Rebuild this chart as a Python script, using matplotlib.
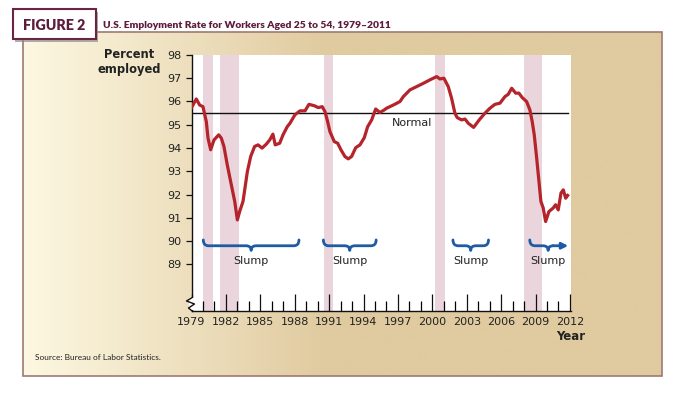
import numpy as np
import matplotlib
matplotlib.use("Agg")
import matplotlib.pyplot as plt
from matplotlib.path import Path
from matplotlib.patches import PathPatch, Rectangle
from matplotlib.lines import Line2D

# ---------------- data ----------------
years = [1979.0, 1979.42, 1979.71, 1980.0, 1980.29, 1980.44, 1980.67, 1980.96, 1981.37, 1981.6,
         1981.83, 1982.12, 1982.47, 1982.77, 1983.0, 1983.2, 1983.49, 1983.64, 1983.87, 1984.16,
         1984.5, 1984.8, 1985.15, 1985.52, 1985.82, 1986.1, 1986.3, 1986.69, 1986.98, 1987.35,
         1987.59, 1988.02, 1988.46, 1988.9, 1989.24, 1989.71, 1990.06, 1990.4, 1990.64, 1990.87,
         1991.07, 1991.45, 1991.75, 1992.03, 1992.38, 1992.67, 1992.96, 1993.32, 1993.69, 1994.07,
         1994.36, 1994.71, 1995.06, 1995.43, 1995.81, 1996.0, 1996.6, 1997.18, 1997.47, 1998.05,
         1998.63, 1999.21, 1999.79, 2000.38, 2000.66, 2001.01, 2001.39, 2001.68, 2001.97, 2002.17,
         2002.56, 2002.85, 2003.13, 2003.6, 2004.12, 2004.59, 2005.02, 2005.46, 2005.9, 2006.33,
         2006.62, 2006.92, 2007.27, 2007.55, 2007.84, 2008.22, 2008.51, 2008.71, 2008.89, 2009.1,
         2009.3, 2009.47, 2009.67, 2009.88, 2010.17, 2010.54, 2010.75, 2010.98, 2011.22, 2011.42,
         2011.63, 2011.8]
rate = [95.73, 96.1, 95.84, 95.77, 95.13, 94.42, 93.92, 94.34, 94.56, 94.42,
        94.06, 93.27, 92.42, 91.7, 90.91, 91.27, 91.7, 92.2, 92.98, 93.63,
        94.06, 94.13, 93.99, 94.16, 94.34, 94.59, 94.13, 94.2, 94.56, 94.91,
        95.06, 95.42, 95.59, 95.59, 95.87, 95.81, 95.73, 95.77, 95.56, 95.13,
        94.7, 94.27, 94.2, 93.92, 93.63, 93.53, 93.63, 94.01, 94.13, 94.44,
        94.91, 95.2, 95.67, 95.52, 95.63, 95.7, 95.84, 95.99, 96.2, 96.49,
        96.63, 96.77, 96.92, 97.06, 96.96, 96.99, 96.63, 96.13, 95.49, 95.3,
        95.2, 95.24, 95.06, 94.88, 95.22, 95.49, 95.7, 95.87, 95.92, 96.2,
        96.3, 96.56, 96.35, 96.35, 96.16, 95.99, 95.63, 95.13, 94.56, 93.56,
        92.56, 91.7, 91.42, 90.84, 91.27, 91.42, 91.56, 91.34, 92.06, 92.2,
        91.84, 91.96]

rec_start = [1980.03, 1981.48, 1990.55, 2000.23, 2007.99]
rec_end = [1980.85, 1983.11, 1991.31, 2001.10, 2009.53]

slump_start = [1980.03, 1990.5, 2001.8, 2008.5]
slump_end = [1988.37, 1995.1, 2004.9, 2011.85]
slump_mid = [1984.2, 1992.8, 2003.35, 2010.1]
slump_label = ["Slump", "Slump", "Slump", "Slump"]

normal_level = 95.5
yticks = list(range(89, 99))
xticks = list(range(1979, 2013, 3))
xminor = list(range(1979, 2013))

title = "U.S. Employment Rate for Workers Aged 25 to 54, 1979\u20132011"

# ---------------- style ----------------
RED = "#B5232B"
BLUE = "#1E5BA6"
PINK = "#E9D5DB"
MAROON = "#5E1C3C"
TXT = "#222222"
NARROW = ["Liberation Sans Narrow", "Lato", "DejaVu Sans"]

fig = plt.figure(figsize=(6.8, 3.98), dpi=100)

# background (pixel coordinates)
bg = fig.add_axes([0, 0, 1, 1])
bg.axis("off")
c0 = np.array([253, 248, 226]) / 255
c1 = np.array([224, 202, 159]) / 255
xs = np.linspace(23.3, 662, 640)
t = np.clip((xs - 23.3) / (330 - 23.3), 0, 1)
img = c0 + (c1 - c0) * t[:, None]
bg.imshow(img[None, :, :], extent=[23.3, 662, 376, 32.3], aspect="auto",
          interpolation="bilinear", zorder=0)
bg.add_patch(Rectangle((23.3, 32.3), 638.7, 343.7, fill=False, ec="#9E7A72", lw=1.2, zorder=2))
bg.add_patch(Rectangle((15.0, 11.8), 83, 30, fc="#8c8c8c", ec="none", alpha=0.7, zorder=3))
bg.add_patch(Rectangle((12.7, 9.3), 83, 30, fc="white", ec="#6A2444", lw=1.5, zorder=4))
bg.set_xlim(0, 680)
bg.set_ylim(398, 0)
bg.text(54.2, 25.0, "FIGURE 2", ha="center", va="center", fontsize=10.3, fontweight="heavy",
        color=MAROON, family=["Lato", "DejaVu Sans"], zorder=5)
bg.text(103, 25.5, title, ha="left", va="center", fontsize=7.4, fontweight="heavy",
        color=MAROON, family=NARROW)
bg.text(129.5, 62, "Percent\nemployed", ha="center", va="center", fontsize=8.3,
        fontweight="bold", color=TXT, linespacing=1.2, multialignment="center")
bg.text(585, 337, "Year", ha="right", va="center", fontsize=8.5, fontweight="bold", color=TXT)
bg.text(35, 357, "Source: Bureau of Labor Statistics.", ha="left", va="center",
        fontsize=6.0, color=TXT, family=NARROW)

# main axes
L, R, T, B = 191.5, 570.5, 54.7, 311.0
ax = fig.add_axes([L / 680, 1 - B / 398, (R - L) / 680, (B - T) / 398])
ax.set_facecolor("white")
ax.set_xlim(1979, 2012.05)
ax.set_ylim(87, 98)

for s, e in zip(rec_start, rec_end):
    ax.axvspan(s, e, color=PINK, lw=0, zorder=1)

ax.plot([1979, 2011.85], [normal_level, normal_level], color="#111111", lw=1.0, zorder=3)
ax.text(1996.48, 95.09, "Normal", ha="left", va="center", fontsize=8, color=TXT, zorder=5)

ax.plot(years, rate, color=RED, lw=2.3, solid_joinstyle="round", zorder=4)

# braces
yt, yb, yp = 90.05, 89.8, 89.6
r = 0.45
for i, (x0, x1, xm, lab) in enumerate(zip(slump_start, slump_end, slump_mid, slump_label)):
    arrow = (i == len(slump_start) - 1)
    verts = [(x0, yt), (x0, yb), (x0 + r, yb), (xm - r, yb), (xm, yb), (xm, yp),
             (xm, yb), (xm + r, yb)]
    codes = [Path.MOVETO, Path.CURVE3, Path.CURVE3, Path.LINETO, Path.CURVE3, Path.CURVE3,
             Path.CURVE3, Path.CURVE3]
    if not arrow:
        verts += [(x1 - r, yb), (x1, yb), (x1, yt)]
        codes += [Path.LINETO, Path.CURVE3, Path.CURVE3]
    ax.add_patch(PathPatch(Path(verts, codes), fill=False, ec=BLUE, lw=2.0,
                           capstyle="round", joinstyle="round", zorder=4))
    if arrow:
        ax.annotate("", xy=(x1, yb), xytext=(xm + r - 0.02, yb),
                    arrowprops=dict(arrowstyle="-|>", color=BLUE, lw=2.0,
                                    mutation_scale=9, shrinkA=0, shrinkB=0), zorder=4)
    ax.text(xm, 89.13, lab, ha="center", va="center", fontsize=8, color=TXT, zorder=5)

# axes styling
for sp in ["top", "right"]:
    ax.spines[sp].set_visible(False)
for sp in ["left", "bottom"]:
    ax.spines[sp].set_color("#111111")
    ax.spines[sp].set_linewidth(1.0)

ax.set_yticks(yticks)
ax.set_yticklabels([str(v) for v in yticks])
ax.tick_params(axis="y", direction="out", length=4, width=0.9, pad=3,
               labelsize=8, colors="#111111", labelcolor=TXT)
ax.set_xticks(xticks)
ax.set_xticklabels([str(v) for v in xticks])
ax.set_xticks(xminor, minor=True)
ax.tick_params(axis="x", which="major", direction="in", length=12.5, width=0.9, pad=4,
               labelsize=8, colors="#111111", labelcolor=TXT)
ax.tick_params(axis="x", which="minor", direction="in", length=7.5, width=0.9)

# axis break on y-axis
W, H = R - L, B - T
ax.add_patch(Rectangle((-3 / W, 1.5 / H), 6 / W, 12 / H, transform=ax.transAxes,
                       fc="white", ec="none", clip_on=False, zorder=6))
zx = [0, -5, 3, -3, 0]
zy = [13, 10, 7, 3, 0.5]
ax.add_line(Line2D([v / W for v in zx], [v / H for v in zy], transform=ax.transAxes,
                   color="#111111", lw=1.0, clip_on=False, zorder=7))

fig.savefig("out.png", dpi=100)
